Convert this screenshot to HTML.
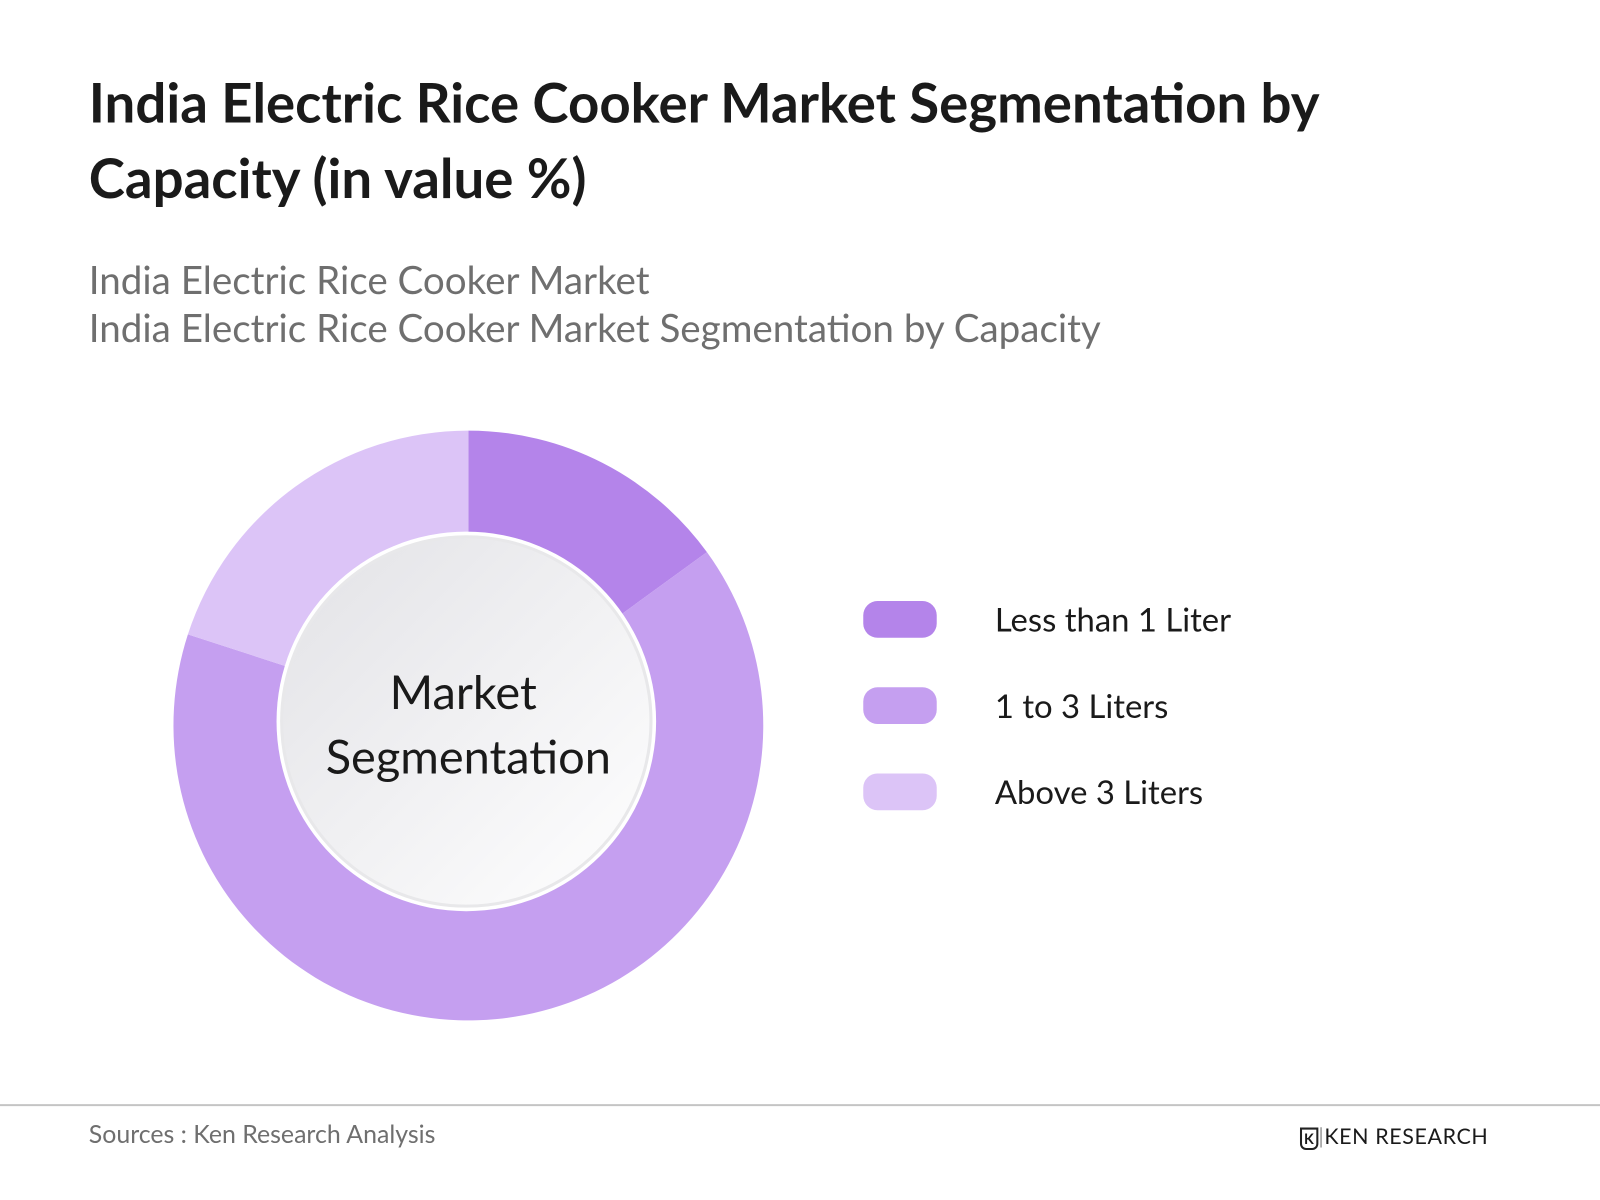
<!DOCTYPE html>
<html><head><meta charset="utf-8"><style>
html,body{margin:0;padding:0;background:#fff;}
#wrap{width:1568px;height:1176px;transform:scale(1.0204);transform-origin:0 0;position:relative;font-family:"Lato","Liberation Sans",sans-serif;overflow:hidden;}
.t{position:absolute;white-space:nowrap;}
</style></head><body>
<div id="wrap">
<div class="t" style="left:87px;top:63px;font-size:53.5px;font-weight:bold;color:#1a1a1a;line-height:74px;">India Electric Rice Cooker Market Segmentation by<br>Capacity (in value %)</div>
<div class="t" style="left:87px;top:251px;font-size:37.8px;color:#6f6f6f;line-height:47px;">India Electric Rice Cooker Market<br>India Electric Rice Cooker Market Segmentation by Capacity</div>
<svg id="chart" width="1568" height="1176" style="position:absolute;left:0;top:0">
<defs><linearGradient id="g" x1="0" y1="0" x2="1" y2="1"><stop offset="0" stop-color="#e2e2e6"/><stop offset="1" stop-color="#ffffff"/></linearGradient></defs>
<g id="slices"></g>
<circle cx="457" cy="707" r="186" fill="#fff"/>
<circle cx="457" cy="707" r="181" fill="url(#g)" stroke="#e8e8ea" stroke-width="3"/>
<text x="454" y="695" text-anchor="middle" font-size="46" fill="#1a1a1a" font-family="Lato, Liberation Sans, sans-serif">Market</text>
<text x="459" y="758" text-anchor="middle" font-size="46" fill="#1a1a1a" font-family="Lato, Liberation Sans, sans-serif">Segmentation</text>
<g id="legend"></g>
<line x1="0" y1="1083" x2="1568" y2="1083" stroke="#c4c4c4" stroke-width="2"/>
</svg>
<div class="t" style="left:87px;top:1097px;font-size:24.4px;color:#6f6f6f;">Sources : Ken Research Analysis</div>
<div class="t" style="left:1274px;top:1101px;font-size:21px;color:#1a1a1a;letter-spacing:0.6px;">
<span style="display:inline-block;width:18px;height:22px;border:2px solid #222;box-sizing:border-box;vertical-align:middle;font-size:14px;line-height:18px;text-align:center;font-weight:bold;border-radius:0 0 6px 6px;">K</span><span style="color:#999">|</span>KEN RESEARCH</div>
</div>
<script>
const categories=["Less than 1 Liter","1 to 3 Liters","Above 3 Liters"];
const values=[15,65,20];
const colors=["#b484ea","#c59ff0","#dcc4f7"];
const NS="http://www.w3.org/2000/svg";
const cx=459,cy=711,R=289,r0=150;
const total=values.reduce((a,b)=>a+b,0);
function pt(a,rad){return [cx+rad*Math.sin(a),cy-rad*Math.cos(a)];}
let acc=0;const g=document.getElementById('slices');
values.forEach((v,i)=>{
  const a0=acc/total*2*Math.PI;acc+=v;const a1=acc/total*2*Math.PI;
  const [x0,y0]=pt(a0,R),[x1,y1]=pt(a1,R),[x2,y2]=pt(a1,r0),[x3,y3]=pt(a0,r0);
  const large=(a1-a0)>Math.PI?1:0;
  const p=document.createElementNS(NS,'path');
  p.setAttribute('d',`M${x0},${y0}A${R},${R} 0 ${large} 1 ${x1},${y1}L${x2},${y2}A${r0},${r0} 0 ${large} 0 ${x3},${y3}Z`);
  p.setAttribute('fill',colors[i]);
  
  
  g.appendChild(p);
});
const lg=document.getElementById('legend');
categories.forEach((c,i)=>{
  const y=607+i*84.5;
  const rc=document.createElementNS(NS,'rect');
  rc.setAttribute('x',846);rc.setAttribute('y',y-18);rc.setAttribute('width',72);rc.setAttribute('height',36);rc.setAttribute('rx',14);rc.setAttribute('fill',colors[i]);
  
  
  lg.appendChild(rc);
  const t=document.createElementNS(NS,'text');
  t.setAttribute('x',975);t.setAttribute('y',y+12);t.setAttribute('font-size',32.2);t.setAttribute('fill','#1a1a1a');
  t.setAttribute('font-family','Lato, Liberation Sans, sans-serif');
  t.textContent=c;
  
  
  lg.appendChild(t);
});
</script>
</body></html>
